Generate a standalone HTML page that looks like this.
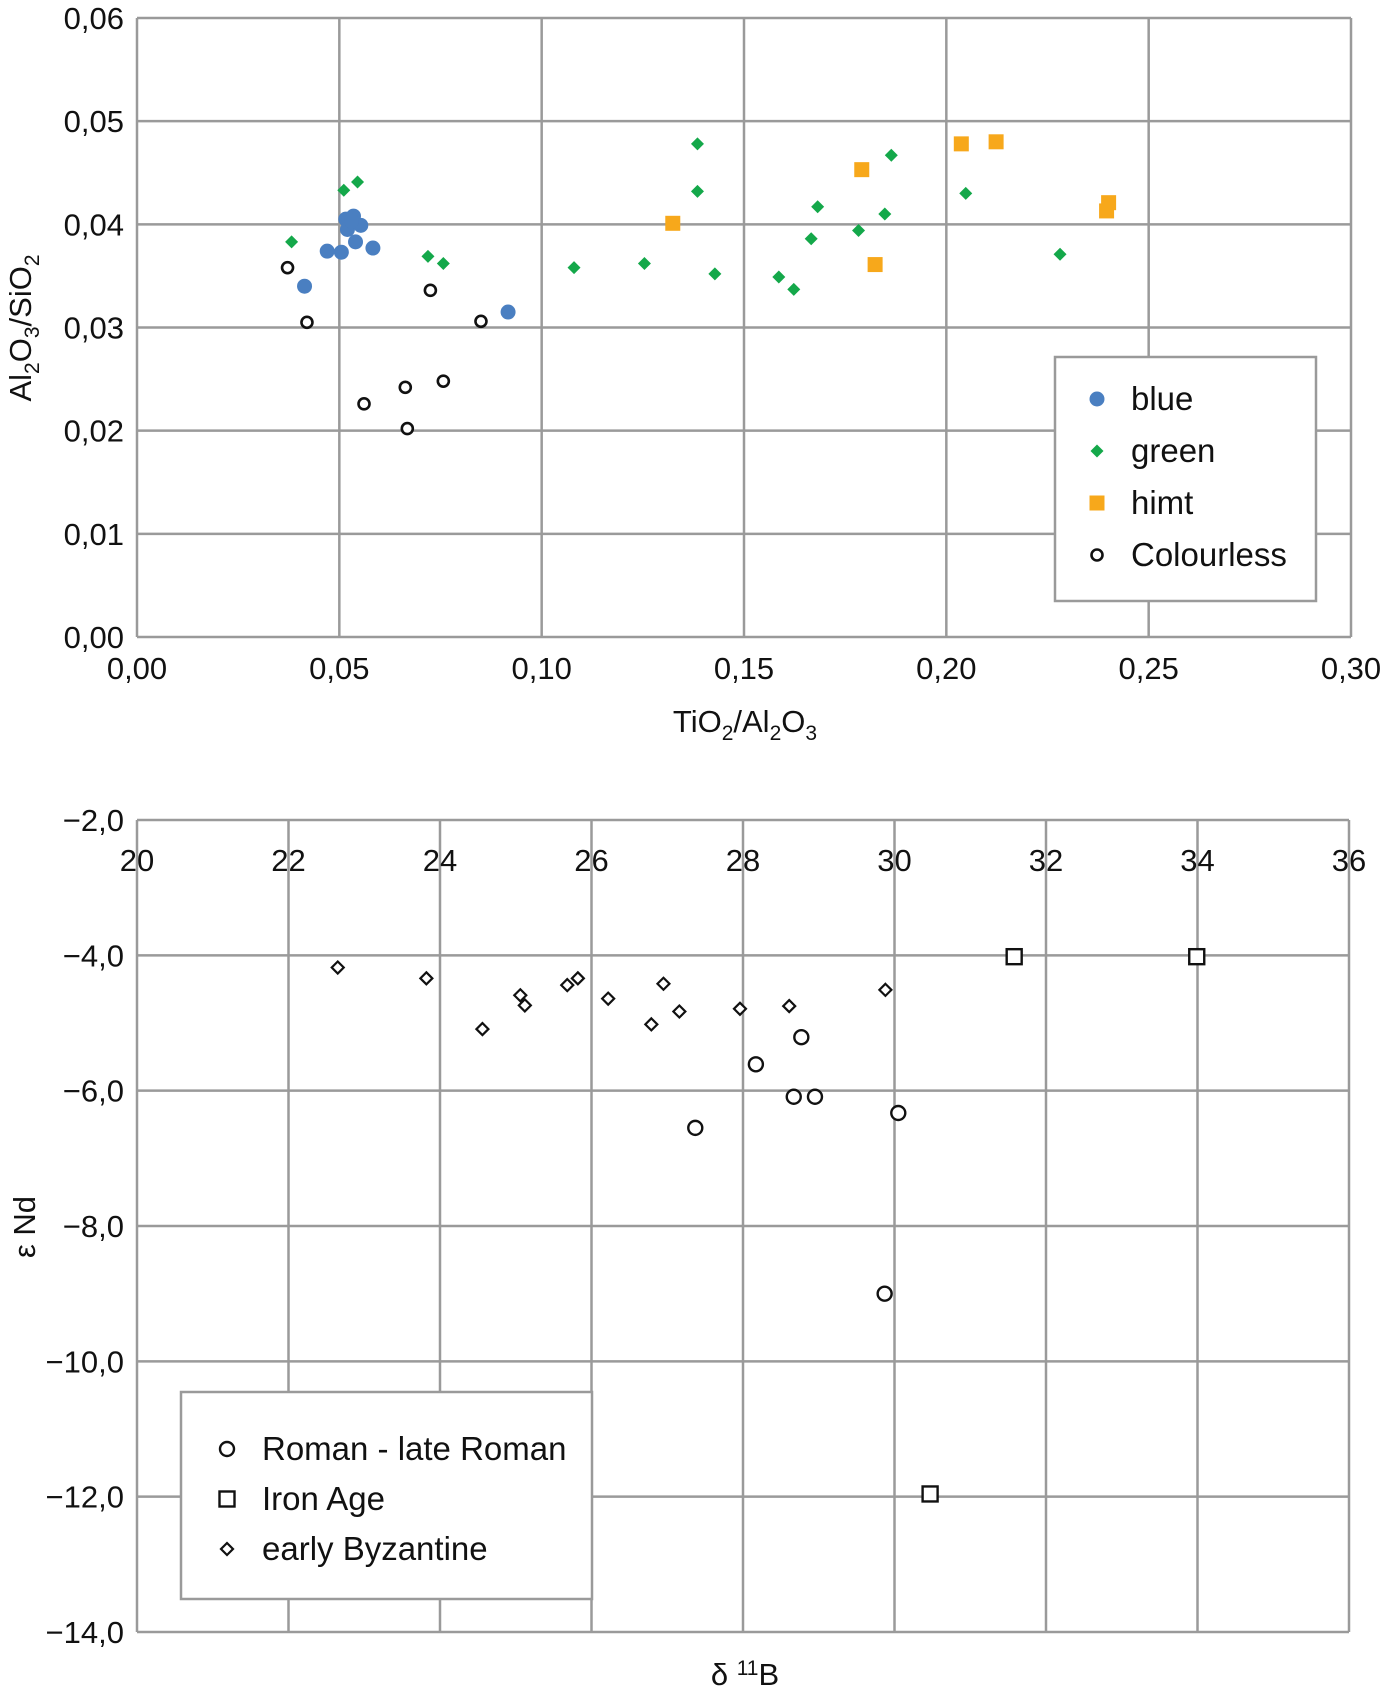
<!DOCTYPE html>
<html><head><meta charset="utf-8"><style>
html,body{margin:0;padding:0;background:#fff}
svg{display:block;font-family:"Liberation Sans",Arial,sans-serif}
</style></head><body>
<svg id="svg" width="1384" height="1692" viewBox="0 0 1384 1692" xmlns="http://www.w3.org/2000/svg"></svg>
<script>
// ---- Top chart data ----
const topXTicks=[0,0.05,0.10,0.15,0.20,0.25,0.30];
const topXTickLabels=["0,00","0,05","0,10","0,15","0,20","0,25","0,30"];
const topYTicks=[0,0.01,0.02,0.03,0.04,0.05,0.06];
const topYTickLabels=["0,00","0,01","0,02","0,03","0,04","0,05","0,06"];
const blueX=[0.0414,0.047,0.0505,0.0516,0.052,0.0535,0.054,0.0553,0.0583,0.0917,0.053];
const blueY=[0.0340,0.0374,0.0373,0.0405,0.0395,0.0408,0.0383,0.0399,0.0377,0.0315,0.0403];
const greenX=[0.0382,0.0511,0.0545,0.0719,0.0757,0.108,0.1254,0.1385,0.1385,0.1428,0.1586,0.1623,0.1666,0.1682,0.1783,0.1848,0.1864,0.2048,0.2281];
const greenY=[0.0383,0.0433,0.0441,0.0369,0.0362,0.0358,0.0362,0.0478,0.0432,0.0352,0.0349,0.0337,0.0386,0.0417,0.0394,0.0410,0.0467,0.0430,0.0371];
const himtX=[0.1324,0.1791,0.1824,0.2037,0.2123,0.2396,0.2401];
const himtY=[0.0401,0.0453,0.0361,0.0478,0.0480,0.0413,0.0421];
const colX=[0.0372,0.042,0.0561,0.0663,0.0668,0.0725,0.0757,0.085];
const colY=[0.0358,0.0305,0.0226,0.0242,0.0202,0.0336,0.0248,0.0306];
// ---- Bottom chart data ----
const botXTicks=[20,22,24,26,28,30,32,34,36];
const botXTickLabels=["20","22","24","26","28","30","32","34","36"];
const botYTicks=[-2,-4,-6,-8,-10,-12,-14];
const botYTickLabels=["\u22122,0","\u22124,0","\u22126,0","\u22128,0","\u221210,0","\u221212,0","\u221214,0"];
const romanX=[27.37,28.17,28.67,28.77,28.95,30.05,29.87];
const romanY=[-6.55,-5.61,-6.09,-5.21,-6.09,-6.33,-9.0];
const ironX=[31.58,33.99,30.47];
const ironY=[-4.02,-4.02,-11.96];
const byzX=[22.65,23.82,24.56,25.06,25.12,25.68,25.82,26.22,26.79,26.95,27.16,27.96,28.61,29.88];
const byzY=[-4.18,-4.34,-5.09,-4.59,-4.74,-4.44,-4.34,-4.64,-5.02,-4.42,-4.83,-4.79,-4.75,-4.51];

const NS="http://www.w3.org/2000/svg";
const svg=document.getElementById('svg');
function el(tag,attrs,parent,text){const e=document.createElementNS(NS,tag);for(const k in attrs)e.setAttribute(k,attrs[k]);if(text!==undefined)e.textContent=text;(parent||svg).appendChild(e);return e;}

const tL=137,tR=1351,tT=18,tB=637;
const tx=v=>tL+(v-0)/(0.30)*(tR-tL);
const ty=v=>tB-(v-0)/(0.06)*(tB-tT);
const bL=137,bR=1349,bT=820,bB=1632;
const bx=v=>bL+(v-20)/16*(bR-bL);
const by=v=>bT+(-2-v)/12*(bB-bT);

const GRID="#9a9a9a";
const gTop=el('g',{});


topXTicks.forEach((v,i)=>{
  const l=el('line',{x1:tx(v),x2:tx(v),y1:tT,y2:tB,stroke:GRID,'stroke-width':2.5},gTop);
  
  
  const t=el('text',{x:tx(v),y:tB+42,'font-size':31,'text-anchor':'middle',fill:'#111'},gTop,topXTickLabels[i]);
  
  
});
topYTicks.forEach((v,i)=>{
  const l=el('line',{x1:tL,x2:tR,y1:ty(v),y2:ty(v),stroke:GRID,'stroke-width':2.5},gTop);
  
  
  const t=el('text',{x:124,y:ty(v)+11,'font-size':31,'text-anchor':'end',fill:'#111'},gTop,topYTickLabels[i]);
  
  
});
let t1=el('text',{x:745,y:732,'font-size':31,'text-anchor':'middle',fill:'#111'},gTop);


t1.innerHTML='TiO<tspan font-size="21" dy="8">2</tspan><tspan dy="-8">/Al</tspan><tspan font-size="21" dy="8">2</tspan><tspan dy="-8">O</tspan><tspan font-size="21" dy="8">3</tspan>';
let t2=el('text',{x:0,y:0,'font-size':31,'text-anchor':'middle',fill:'#111',transform:'translate(31,328) rotate(-90)'},gTop);


t2.innerHTML='Al<tspan font-size="21" dy="8">2</tspan><tspan dy="-8">O</tspan><tspan font-size="21" dy="8">3</tspan><tspan dy="-8">/SiO</tspan><tspan font-size="21" dy="8">2</tspan>';

function diamond(cx,cy,h,attrs,parent){return el('polygon',Object.assign({points:`${cx},${cy-h} ${cx+h},${cy} ${cx},${cy+h} ${cx-h},${cy}`},attrs),parent);}

colX.forEach((v,i)=>{const c=el('circle',{cx:tx(v),cy:ty(colY[i]),r:5.5,fill:'#fff',stroke:'#111','stroke-width':2.6},gTop);
 
 });
greenX.forEach((v,i)=>{const c=diamond(tx(v),ty(greenY[i]),6.5,{fill:'#14a84a'},gTop);
 
 });
himtX.forEach((v,i)=>{const c=el('rect',{x:tx(v)-7.5,y:ty(himtY[i])-7.5,width:15,height:15,fill:'#f7a81b'},gTop);
 
 });
blueX.forEach((v,i)=>{const c=el('circle',{cx:tx(v),cy:ty(blueY[i]),r:7.5,fill:'#4a7fc1'},gTop);
 
 });

const lg=el('g',{},gTop);


el('rect',{x:1055,y:357,width:261,height:244,fill:'#fff',stroke:GRID,'stroke-width':2.5},lg);
const ly=[399,451,503,555];
el('circle',{cx:1097,cy:ly[0],r:7.5,fill:'#4a7fc1'},lg);
diamond(1097,ly[1],6.5,{fill:'#14a84a'},lg);
el('rect',{x:1089.5,y:ly[2]-7.5,width:15,height:15,fill:'#f7a81b'},lg);
el('circle',{cx:1097,cy:ly[3],r:5.5,fill:'#fff',stroke:'#111','stroke-width':2.6},lg);
["blue","green","himt","Colourless"].forEach((s,i)=>{const t=el('text',{x:1131,y:ly[i]+11,'font-size':33,fill:'#111'},lg,s);
 
 });

const gB=el('g',{});


botXTicks.forEach((v,i)=>{
  const l=el('line',{x1:bx(v),x2:bx(v),y1:bT,y2:bB,stroke:GRID,'stroke-width':2.5},gB);
  
  
  const t=el('text',{x:bx(v),y:871,'font-size':31,'text-anchor':'middle',fill:'#111'},gB,botXTickLabels[i]);
  
  
});
botYTicks.forEach((v,i)=>{
  const l=el('line',{x1:bL,x2:bR,y1:by(v),y2:by(v),stroke:GRID,'stroke-width':2.5},gB);
  
  
  const t=el('text',{x:124,y:by(v)+11,'font-size':31,'text-anchor':'end',fill:'#111'},gB,botYTickLabels[i]);
  
  
});
let t3=el('text',{x:745,y:1685,'font-size':31,'text-anchor':'middle',fill:'#111'},gB);


t3.innerHTML='δ <tspan font-size="21" dy="-10">11</tspan><tspan dy="10">B</tspan>';
let t4=el('text',{x:0,y:0,'font-size':31,'text-anchor':'middle',fill:'#111',transform:'translate(35,1227) rotate(-90)'},gB,'ε Nd');



romanX.forEach((v,i)=>{const c=el('circle',{cx:bx(v),cy:by(romanY[i]),r:7,fill:'#fff',stroke:'#111','stroke-width':2.4},gB);
 
 });
ironX.forEach((v,i)=>{const c=el('rect',{x:bx(v)-7.5,y:by(ironY[i])-7.5,width:15,height:15,fill:'#fff',stroke:'#111','stroke-width':2.4},gB);
 
 });
byzX.forEach((v,i)=>{const c=diamond(bx(v),by(byzY[i]),6,{fill:'#fff',stroke:'#111','stroke-width':2.2},gB);
 
 });

const lg2=el('g',{},gB);


el('rect',{x:181,y:1392,width:411,height:207,fill:'#fff',stroke:GRID,'stroke-width':2.5},lg2);
const ly2=[1449,1499,1549];
el('circle',{cx:227,cy:ly2[0],r:7,fill:'#fff',stroke:'#111','stroke-width':2.4},lg2);
el('rect',{x:219.5,y:ly2[1]-7.5,width:15,height:15,fill:'#fff',stroke:'#111','stroke-width':2.4},lg2);
diamond(227,ly2[2],6,{fill:'#fff',stroke:'#111','stroke-width':2.2},lg2);
["Roman - late Roman","Iron Age","early Byzantine"].forEach((s,i)=>{const t=el('text',{x:262,y:ly2[i]+11,'font-size':33,fill:'#111'},lg2,s);
 
 });
</script>
</body></html>
